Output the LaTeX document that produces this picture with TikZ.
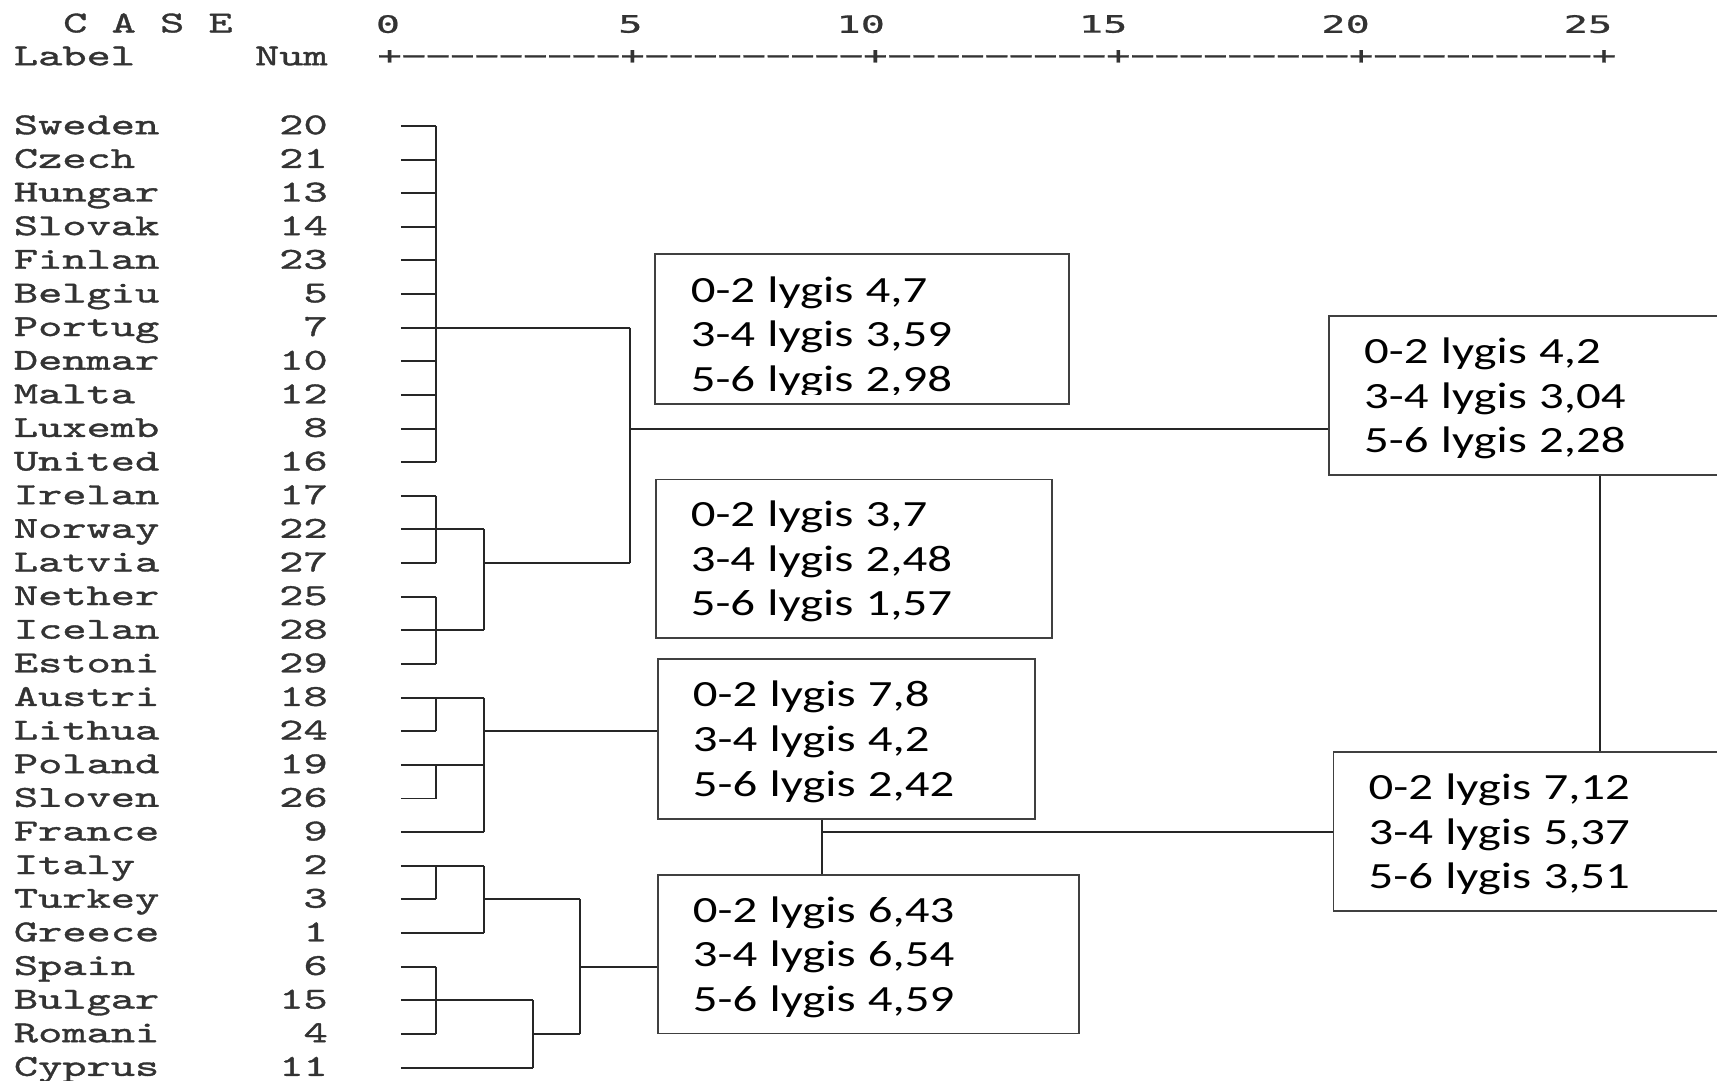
\documentclass[tikz,border=0pt]{standalone}
\usepackage{fontspec}
\usetikzlibrary{calc}
\newfontfamily\spssfont[FakeStretch=1.517, FakeBold=1.2]{lmmono10-regular.otf}
\newfontfamily\tickfont[FakeStretch=1.69, FakeBold=0.8]{DejaVu Sans Mono}
\newfontfamily\boxfont[FakeStretch=1.32]{Carlito}
\newcommand\axisseg{−−−−−−−−−+}

\tikzset{
  spss/.style={inner sep=0pt, text=black!80, font=\spssfont\fontsize{7.9}{9}\selectfont},
  ticklab/.style={inner sep=0pt, text=black!80, font=\tickfont\fontsize{6.2}{8}\selectfont},
  dline/.style={draw=black!85, line width=0.018cm},
  boxline/.style={draw=black!75, line width=0.016cm},
  statbox/.style={boxline, anchor=north west, inner xsep=0.32cm, inner ysep=0pt,
    minimum height=1.45cm, align=left, font=\boxfont\fontsize{9.6}{11.57}\selectfont,
    execute at begin node=\rule{0pt}{9.5pt}, execute at end node=\rule[-3pt]{0pt}{3pt}}
}

\begin{document}
\begin{tikzpicture}[x=0.01cm, y=-0.01cm]
  \clip (0,0) rectangle (1568,987);

  % header
  \node[spss, anchor=mid west] (case) at (57,22) {C A S E};
  \node[spss, anchor=mid west] (label) at (12,52) {Label};
  \node[spss, anchor=mid east] (numhead) at (300,52) {Num};
  \node[ticklab, anchor=west] (axis) at (344,52) {+\axisseg\axisseg\axisseg\axisseg\axisseg};
  \foreach \v [count=\k from 0] in {0,5,10,15,20,25}
    \node[ticklab, anchor=east] (tick\v) at ({366.1+221.4*\k},22) {\v};

  % cases
  \foreach \lab/\num [count=\i from 0] in {Sweden/20, Czech/21, Hungar/13, Slovak/14, Finlan/23,
      Belgiu/5, Portug/7, Denmar/10, Malta/12, Luxemb/8, United/16, Irelan/17, Norway/22,
      Latvia/27, Nether/25, Icelan/28, Estoni/29, Austri/18, Lithua/24, Poland/19, Sloven/26,
      France/9, Italy/2, Turkey/3, Greece/1, Spain/6, Bulgar/15, Romani/4, Cyprus/11} {
    \node[spss, anchor=mid west] (lab\i) at (12,{115+30.71*\i}) {\lab};
    \node[spss, anchor=mid east] (num\i) at (300,{115+30.71*\i}) {\num};
    \coordinate (leaf\i) at (366,{115+30.71*\i});
  }

  % merge levels
  \coordinate (x1) at (398,0);
  \coordinate (x2) at (442,0);
  \coordinate (x3) at (487,0);
  \coordinate (x4) at (530,0);
  \coordinate (x5) at (575,0);

  % cluster boxes (the first one is cut short, its last line clipped)
  \begin{scope}
    \clip (598,232) rectangle (976,360);
    \node[statbox, draw=none, text width=3.14cm] (boxA) at (598,232) {0-2 lygis 4,7\\3-4 lygis 3,59\\5-6 lygis 2,98};
  \end{scope}
  \draw[boxline] (boxA.north west) rectangle (976,369);
  \node[statbox, text width=2.98cm] (boxB) at (598,437) {0-2 lygis 3,7\\3-4 lygis 2,48\\5-6 lygis 1,57};
  \node[statbox, text width=2.80cm, minimum height=1.46cm] (boxC) at (600,601) {0-2 lygis 7,8\\3-4 lygis 4,2\\5-6 lygis 2,42};
  \node[statbox, text width=3.20cm] (boxD) at (600,798) {0-2 lygis 6,43\\3-4 lygis 6,54\\5-6 lygis 4,59};
  \node[statbox, text width=3.34cm] (boxE) at (1213,288) {0-2 lygis 4,2\\3-4 lygis 3,04\\5-6 lygis 2,28};
  \node[statbox, text width=3.34cm] (boxF) at (1217,686) {0-2 lygis 7,12\\3-4 lygis 5,37\\5-6 lygis 3,51};

  % leaves to first merge
  \foreach \i in {0,...,27}
    \draw[dline] (leaf\i) -- (leaf\i -| x1);

  % upper group
  \draw[dline] (leaf0 -| x1) -- (leaf10 -| x1);
  \draw[dline] (leaf6 -| x1) -- (leaf6 -| x5);
  \draw[dline] (leaf11 -| x1) -- (leaf13 -| x1);
  \draw[dline] (leaf14 -| x1) -- (leaf16 -| x1);
  \draw[dline] (leaf12 -| x1) -- (leaf12 -| x2);
  \draw[dline] (leaf15 -| x1) -- (leaf15 -| x2);
  \draw[dline] (leaf12 -| x2) -- (leaf15 -| x2);
  \draw[dline] (leaf13 -| x2) -- (leaf13 -| x5);
  \draw[dline] (leaf6 -| x5) -- (leaf13 -| x5);
  \draw[dline] (leaf9 -| x5) -- (leaf9 -| boxE.west);

  % middle group
  \draw[dline] (leaf17 -| x1) -- (leaf18 -| x1);
  \draw[dline] (leaf19 -| x1) -- (leaf20 -| x1);
  \draw[dline] (leaf17 -| x1) -- (leaf17 -| x2);
  \draw[dline] (leaf19 -| x1) -- (leaf19 -| x2);
  \draw[dline] (leaf21 -| x1) -- (leaf21 -| x2);
  \draw[dline] (leaf17 -| x2) -- (leaf21 -| x2);
  \draw[dline] (leaf18 -| x2) -- (leaf18 -| boxC.west);

  % lower group
  \draw[dline] (leaf22 -| x1) -- (leaf23 -| x1);
  \draw[dline] (leaf22 -| x1) -- (leaf22 -| x2);
  \draw[dline] (leaf24 -| x1) -- (leaf24 -| x2);
  \draw[dline] (leaf22 -| x2) -- (leaf24 -| x2);
  \draw[dline] (leaf23 -| x2) -- (leaf23 -| x4);
  \draw[dline] (leaf25 -| x1) -- (leaf27 -| x1);
  \draw[dline] (leaf26 -| x1) -- (leaf26 -| x3);
  \draw[dline] (leaf28) -- (leaf28 -| x3);
  \draw[dline] (leaf26 -| x3) -- (leaf28 -| x3);
  \draw[dline] (leaf27 -| x3) -- (leaf27 -| x4);
  \draw[dline] (leaf23 -| x4) -- (leaf27 -| x4);
  \draw[dline] (leaf25 -| x4) -- (leaf25 -| boxD.west);

  % box links
  \coordinate (jcd) at (751,760);
  \draw[dline] (jcd |- boxC.south) -- (jcd |- boxD.north);
  \draw[dline] (jcd) -- (jcd -| boxF.west);
  \coordinate (jef) at (1461,0);
  \draw[dline] (jef |- boxE.south) -- (jef |- boxF.north);
\end{tikzpicture}
\end{document}
